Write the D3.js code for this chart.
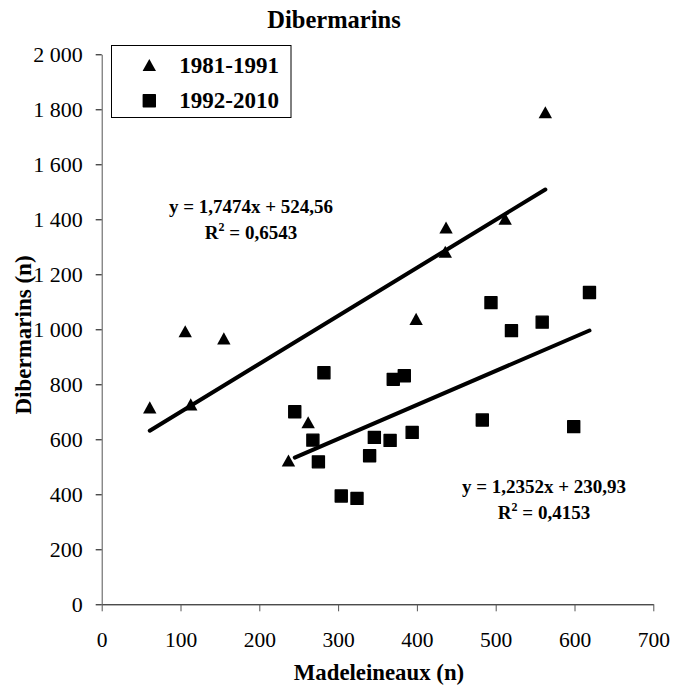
<!DOCTYPE html>
<html lang="fr">
<head>
<meta charset="utf-8">
<title>Dibermarins</title>
<script src="https://cdn.jsdelivr.net/npm/d3@7"></script>
<style>
    body { margin: 0; background: #fff; }
    svg, svg text { font-family: "Liberation Serif", "DejaVu Serif", serif; fill: #000; }
</style>
</head>
<body>
<script>
// series 1981-1991 (triangles)
var x1 = [61, 106, 113, 155, 237, 262, 399, 436, 437, 512, 563];
var y1 = [716, 993, 727, 967, 523, 662, 1038, 1282, 1370, 1402, 1789];
// series 1992-2010 (squares)
var x2 = [245, 268, 275, 282, 304, 324, 340, 346, 366, 370, 384, 394, 483, 494, 520, 559, 599, 619];
var y2 = [700, 597, 518, 842, 394, 385, 540, 607, 596, 818, 831, 625, 670, 1097, 995, 1026, 646, 1134];

var seriesNames = ["1981-1991", "1992-2010"];
var slopes = [1.7474, 1.2352];
var intercepts = [524.56, 230.93];
var equations = ["y = 1,7474x + 524,56", "y = 1,2352x + 230,93"];
var r2Values = ["0,6543", "0,4153"];

var xTicks = [0, 100, 200, 300, 400, 500, 600, 700];
var yTicks = [0, 200, 400, 600, 800, 1000, 1200, 1400, 1600, 1800, 2000];

var w = 677, h = 685;
var serif = "'Liberation Serif', 'DejaVu Serif', serif";

var svg = d3.select("body").append("svg")
    .attr("width", w)
    .attr("height", h)
    .attr("font-family", serif);

var x = d3.scaleLinear().domain([0, 700]).range([101.7, 653.3]);
var y = d3.scaleLinear().domain([0, 2000]).range([604.3, 54.3]);

var fr = d3.formatLocale({decimal: ",", thousands: " ", grouping: [3], currency: ["", ""]});
var fmt = fr.format(",d");

// axes
var gx = svg.append("g")
    .attr("transform", "translate(0," + y(0) + ")")
    .call(d3.axisBottom(x).tickValues(xTicks).tickSizeInner(7).tickSizeOuter(0).tickFormat(d3.format("d")));
gx.attr("font-family", serif);
gx.select(".domain").attr("stroke", "#000");
gx.selectAll(".tick line").attr("stroke", "#555");
gx.selectAll("text").attr("font-size", 21.5).attr("dy", null).attr("y", 43);

var gy = svg.append("g")
    .attr("transform", "translate(" + x(0) + ",0)")
    .call(d3.axisLeft(y).tickValues(yTicks).tickSizeInner(6).tickSizeOuter(0).tickPadding(13).tickFormat(fmt));
gy.attr("font-family", serif);
gy.select(".domain").attr("stroke", "#555");
gy.selectAll(".tick line").attr("stroke", "#000");
gy.selectAll("text").attr("font-size", 22);

// titles
svg.append("text")
    .attr("x", 334).attr("y", 28)
    .attr("text-anchor", "middle")
    .attr("font-weight", "bold")
    .attr("font-size", 24.5)
    .text("Dibermarins");

svg.append("text")
    .attr("x", 379).attr("y", 680)
    .attr("text-anchor", "middle")
    .attr("font-weight", "bold")
    .attr("font-size", 22.8)
    .text("Madeleineaux (n)");

svg.append("text")
    .attr("transform", "translate(31,335) rotate(-90)")
    .attr("text-anchor", "middle")
    .attr("font-weight", "bold")
    .attr("font-size", 23)
    .text("Dibermarins (n)");

// marker shapes
var tri = {
    draw: function(ctx, size) {
        var s = Math.sqrt(size);
        ctx.moveTo(0, -s * 0.45);
        ctx.lineTo(s * 0.5, s * 0.45);
        ctx.lineTo(-s * 0.5, s * 0.45);
        ctx.closePath();
    }
};
var triPath = d3.symbol().type(tri).size(13.4 * 13.4)();
var sqPath = d3.symbol().type(d3.symbolSquare).size(12 * 12)();

// trend lines
var trend = [[d3.min(x1), d3.max(x1)], [d3.min(x2), d3.max(x2)]];
trend.forEach(function(ext, i) {
    svg.append("line")
        .attr("x1", x(ext[0]))
        .attr("y1", y(slopes[i] * ext[0] + intercepts[i]))
        .attr("x2", x(ext[1]))
        .attr("y2", y(slopes[i] * ext[1] + intercepts[i]))
        .attr("stroke", "#000")
        .attr("stroke-width", 4)
        .attr("stroke-linecap", "round");
});

// points
svg.selectAll("path.tri")
    .data(d3.zip(x1, y1))
    .enter()
    .append("path")
    .attr("class", "tri")
    .attr("d", triPath)
    .attr("transform", function(d) { return "translate(" + x(d[0]) + "," + y(d[1]) + ")"; })
    .attr("fill", "#000");

svg.selectAll("path.sq")
    .data(d3.zip(x2, y2))
    .enter()
    .append("path")
    .attr("class", "sq")
    .attr("d", sqPath)
    .attr("transform", function(d) { return "translate(" + x(d[0]) + "," + y(d[1]) + ")"; })
    .attr("fill", "#000")
    .attr("stroke", "#000")
    .attr("stroke-width", 1.4)
    .attr("stroke-linejoin", "round");

// equations
var eqPos = [[251, 212.7], [544, 492.7]];
eqPos.forEach(function(p, i) {
    svg.append("text")
        .attr("x", p[0]).attr("y", p[1])
        .attr("text-anchor", "middle")
        .attr("font-weight", "bold")
        .attr("font-size", 19)
        .text(equations[i]);
    var t = svg.append("text")
        .attr("x", p[0]).attr("y", p[1] + 26)
        .attr("text-anchor", "middle")
        .attr("font-weight", "bold")
        .attr("font-size", 19);
    t.append("tspan").text("R");
    t.append("tspan").attr("dy", -8).attr("font-size", 12).text("2");
    t.append("tspan").attr("dy", 8).text(" = " + r2Values[i]);
});

// legend
svg.append("rect")
    .attr("x", 111.5).attr("y", 45.5)
    .attr("width", 179.5).attr("height", 72)
    .attr("fill", "#fff")
    .attr("stroke", "#000")
    .attr("stroke-width", 1);

var legY = [65, 100.7];
var legShapes = [triPath, sqPath];
seriesNames.forEach(function(name, i) {
    var g = svg.append("g");
    g.append("path")
        .attr("d", legShapes[i])
        .attr("transform", "translate(149.3," + legY[i] + ")")
        .attr("fill", "#000")
        .attr("stroke", i == 1 ? "#000" : "none")
        .attr("stroke-width", 1.4)
        .attr("stroke-linejoin", "round");
    g.append("text")
        .attr("x", 179.3).attr("y", legY[i] + 7.7)
        .attr("font-weight", "bold")
        .attr("font-size", 23)
        .text(name);
});
</script>
</body>
</html>
